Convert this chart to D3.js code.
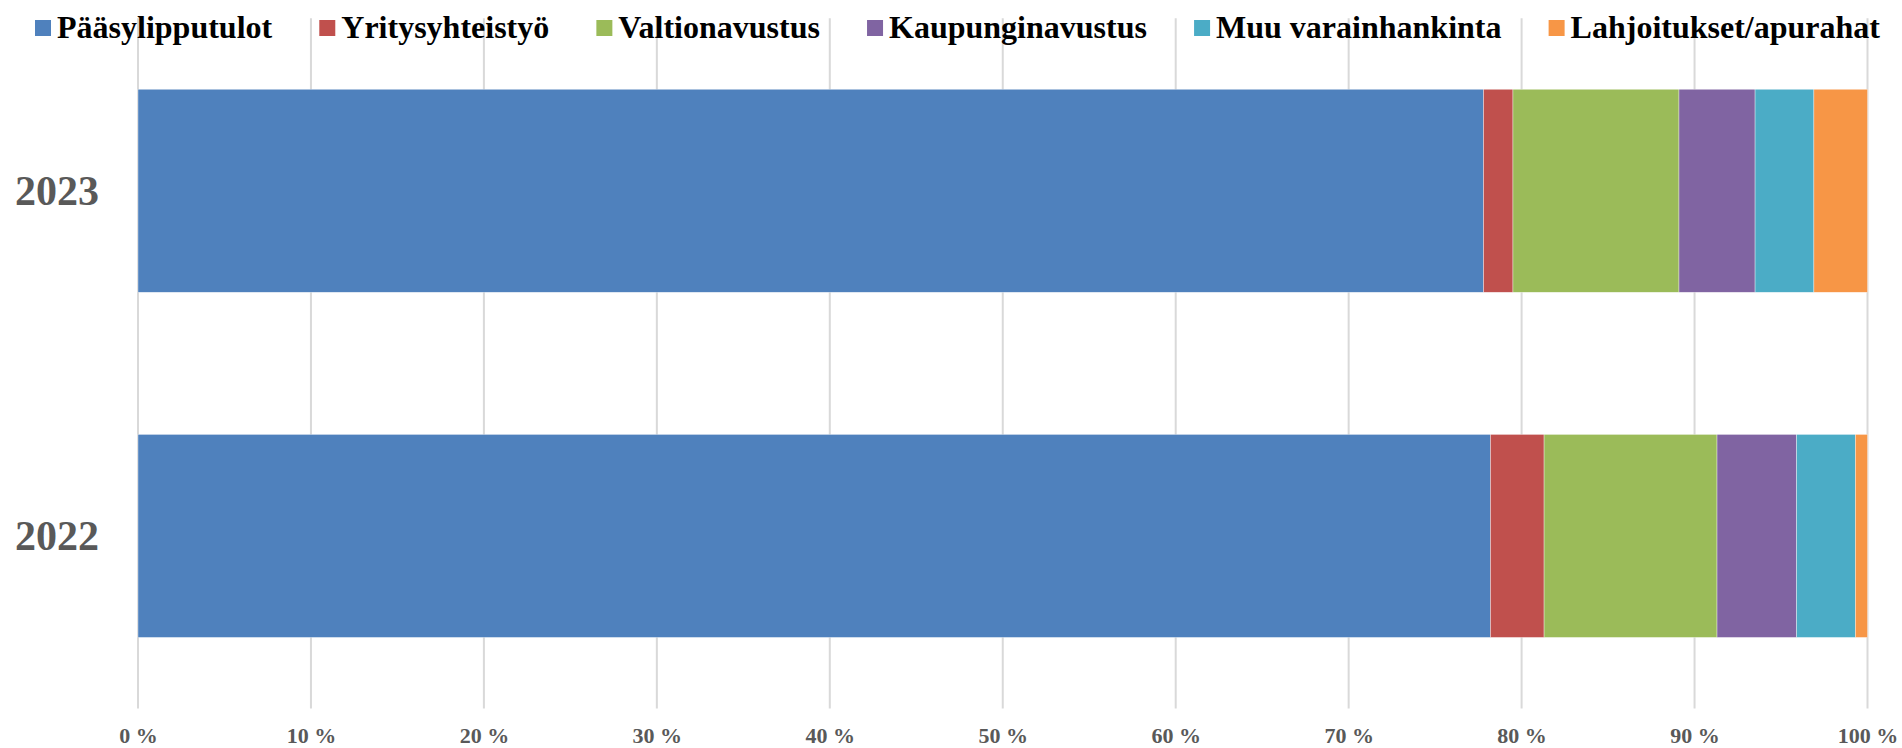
<!DOCTYPE html>
<html>
<head>
<meta charset="utf-8">
<script src="https://cdn.jsdelivr.net/npm/d3@7/dist/d3.min.js"></script>
<style>
  html, body { margin: 0; padding: 0; background: #fff; }
  svg { display: block; }
  text { font-family: "Liberation Serif", "Times New Roman", serif; font-weight: bold; }
</style>
</head>
<body>
<svg id="chart" width="1902" height="748"></svg>
<script>
// ---- data ----
const years = ["2023", "2022"];
const seriesNames = ["Pääsylipputulot", "Yritysyhteistyö", "Valtionavustus", "Kaupunginavustus", "Muu varainhankinta", "Lahjoitukset/apurahat"];
const seriesColors = ["#4f81bd", "#c0504d", "#9bbb59", "#8064a2", "#4bacc6", "#f79646"];
const values2023 = [77.8, 1.7, 9.6, 4.4, 3.4, 3.1];
const values2022 = [78.2, 3.1, 10.0, 4.6, 3.4, 0.7];
const xTicks = [0, 10, 20, 30, 40, 50, 60, 70, 80, 90, 100];
const xTickLabels = ["0 %", "10 %", "20 %", "30 %", "40 %", "50 %", "60 %", "70 %", "80 %", "90 %", "100 %"];

const rows = years.map((y, i) => {
  const vals = i === 0 ? values2023 : values2022;
  const total = d3.sum(vals);
  const r = { year: y };
  seriesNames.forEach((s, j) => r[s] = vals[j] / total * 100);
  return r;
});

// ---- layout ----
const svg = d3.select("#chart");
const plot = { left: 138, right: 1867.5, top: 18.2, bottom: 708.5 };

const x = d3.scaleLinear().domain([0, 100]).range([plot.left, plot.right]);
const y = d3.scaleBand().domain(years).range([plot.top, plot.bottom])
  .paddingInner(0.4118).paddingOuter(0.2059);

// gridlines
svg.append("g").selectAll("line").data(xTicks).join("line")
  .attr("x1", d => x(d)).attr("x2", d => x(d))
  .attr("y1", plot.top).attr("y2", plot.bottom)
  .attr("stroke", "#d9d9d9").attr("stroke-width", 2);

// stacked bars
const stack = d3.stack().keys(seriesNames)(rows);
svg.append("g").selectAll("g").data(stack).join("g")
  .attr("fill", (d, i) => seriesColors[i])
  .selectAll("rect").data(d => d).join("rect")
  .attr("x", d => x(d[0]))
  .attr("width", d => x(d[1]) - x(d[0]))
  .attr("y", d => y(d.data.year))
  .attr("height", y.bandwidth())
  .attr("stroke", "#ffffff").attr("stroke-width", 0.6).attr("stroke-opacity", 0.6);

// x-axis labels
const xAxis = d3.axisBottom(x).tickValues(xTicks).tickFormat((d, i) => xTickLabels[i]).tickSize(0);
const gx = svg.append("g").attr("transform", `translate(0,${plot.bottom})`).call(xAxis);
gx.select(".domain").remove();
gx.selectAll("text")
  .attr("y", 34).attr("dy", null)
  .attr("fill", "#595959")
  .style("font-family", '"Liberation Serif", "Times New Roman", serif')
  .style("font-weight", "bold")
  .style("font-size", "22px");

// y-axis labels
const yAxis = d3.axisLeft(y).tickSize(0);
const gy = svg.append("g").attr("transform", `translate(${plot.left},0)`).call(yAxis);
gy.select(".domain").remove();
gy.selectAll("text")
  .attr("x", -39).attr("dy", "14px")
  .attr("fill", "#595959")
  .attr("text-anchor", "end")
  .style("font-family", '"Liberation Serif", "Times New Roman", serif')
  .style("font-weight", "bold")
  .style("font-size", "42px");

// legend
const legend = svg.append("g");
const items = legend.selectAll("g").data(seriesNames).join("g");
items.append("rect").attr("width", 16).attr("height", 16).attr("y", 20)
  .attr("fill", (d, i) => seriesColors[i]);
items.append("text").attr("x", 22).attr("y", 37.5)
  .attr("fill", "#000").style("font-size", "32px").text(d => d);
const widths = [];
items.each(function () { widths.push(this.querySelector("text").getComputedTextLength() + 22); });
const startX = 35, endX = 1880;
const gap = (endX - startX - d3.sum(widths)) / (widths.length - 1);
let cx = startX;
items.each(function (d, i) {
  d3.select(this).attr("transform", `translate(${cx},0)`);
  cx += widths[i] + gap;
});
</script>
</body>
</html>
